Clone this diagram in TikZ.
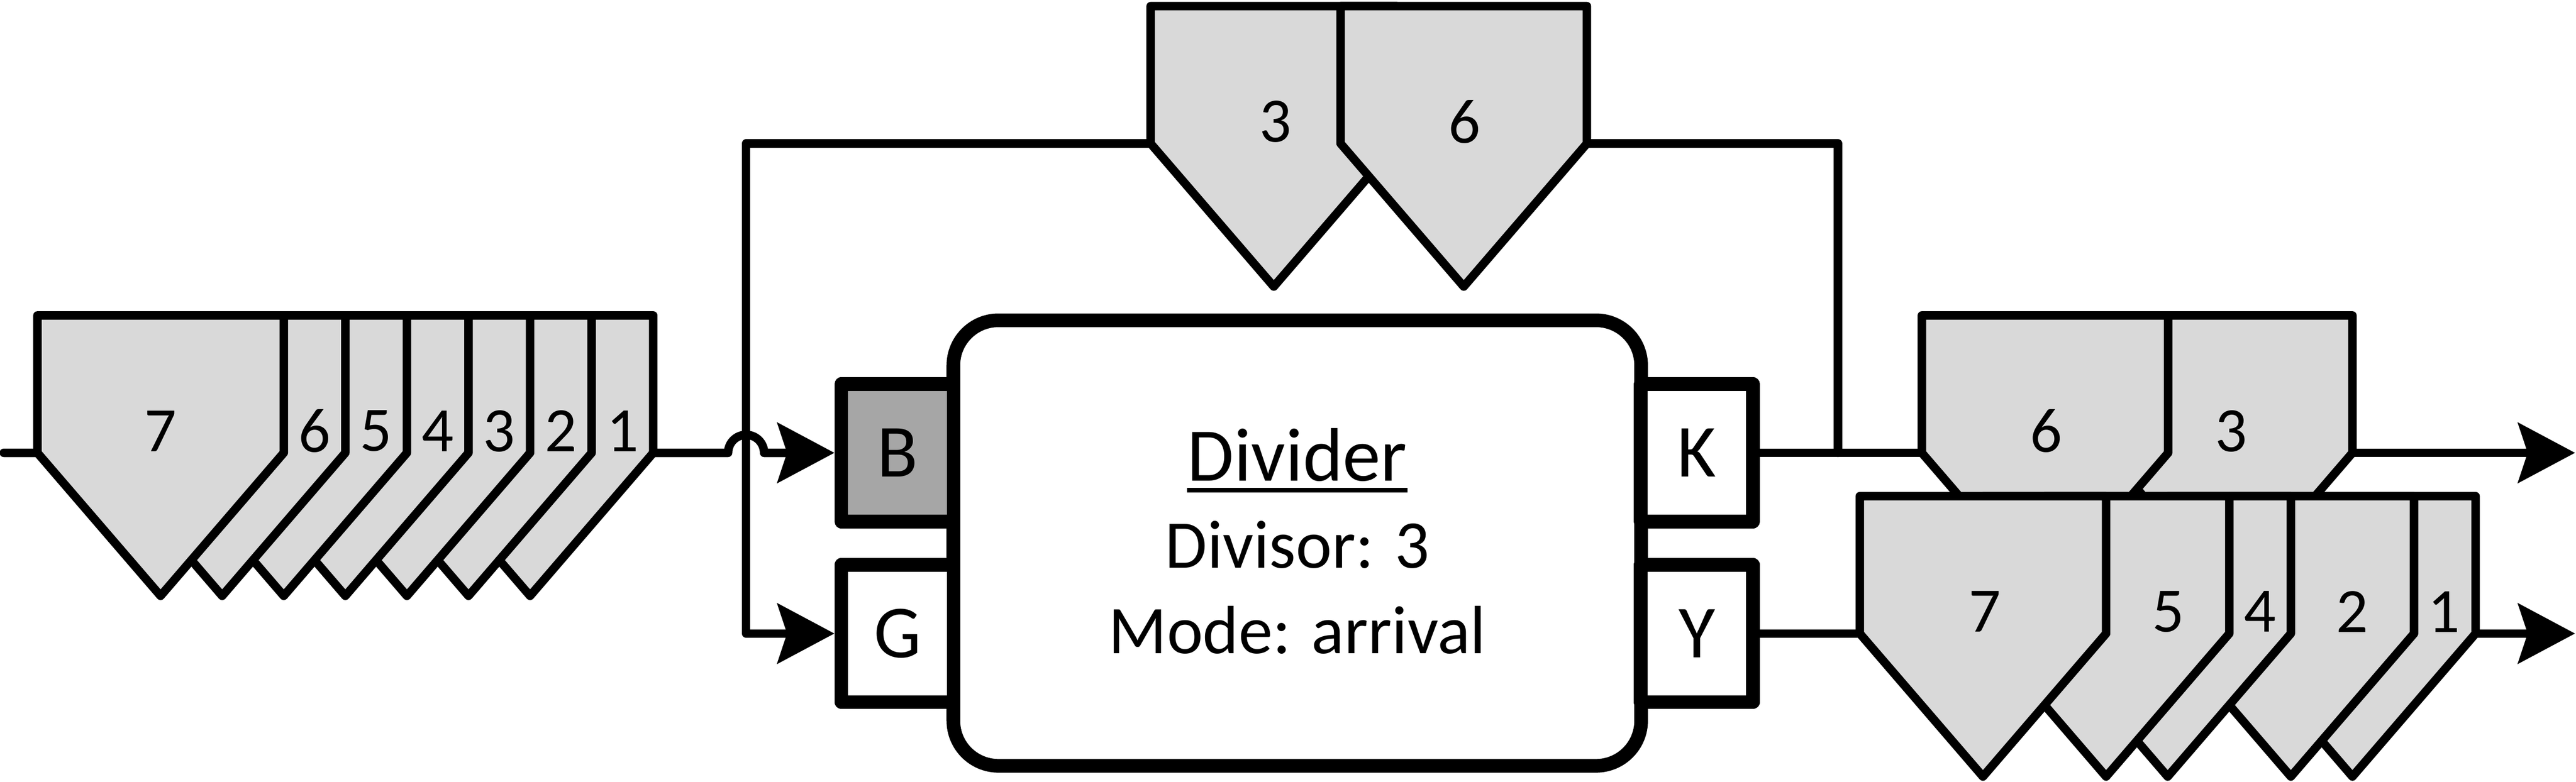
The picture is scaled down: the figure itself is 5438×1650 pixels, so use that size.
\documentclass[tikz,border=0pt]{standalone}
\usepackage{fontspec}
\setmainfont{Carlito}
\usetikzlibrary{arrows.meta}

\definecolor{tokengray}{HTML}{D9D9D9}
\definecolor{portgray}{HTML}{A6A6A6}

% token: name, right edge, top, label x, label
\newcommand{\pkt}[5]{%
  \draw[token] (#2-520,#3) -- (#2,#3) -- (#2,#3+290) -- (#2-260,#3+592) -- (#2-520,#3+290) -- cycle;
  \node (#1) [tokenlabel] at (#4,#3+244) {#5};
}

\begin{document}
\begin{tikzpicture}[x=0.01cm, y=-0.01cm, line join=round,
  >={Stealth[length=1.2cm, width=1.26cm, inset=0.2cm]},
  port/.style={draw, line width=8.2pt, minimum width=2.37cm, minimum height=2.9cm, inner sep=0pt, font=\fontsize{45}{54}\selectfont},
  divbox/.style={draw, fill=white, line width=8.2pt, rounded corners=0.95cm, minimum width=14.51cm, minimum height=9.4cm},
  divtext/.style={inner sep=0pt, anchor=base, font=\fontsize{41}{49}\selectfont},
  wire/.style={line width=5.1pt, line cap=round},
  token/.style={draw, line width=5.1pt, fill=tokengray},
  tokenlabel/.style={inner sep=0pt, font=\fontsize{38}{46}\selectfont}]
\useasboundingbox (0,0) rectangle (5438,1650);
% Specification of nodes (position, etc.)

\node (divider)   [divbox]                    at (2738.5,1146.5) {};
\node (B)         [port, fill=portgray]       at (1894.5,956)    {B};
\node (G)         [port, fill=white]          at (1894.5,1337.5) {G};
\node (K)         [port, fill=white]          at (3582,956)      {K};
\node (Y)         [port, fill=white]          at (3582,1337.5)   {Y};

\node (title)     [divtext, font=\fontsize{45.5}{54}\selectfont] at (2738.5,1015) {Divider};
\node (divisor)   [divtext]                   at (2738.5,1199)   {Divisor: 3};
\node (mode)      [divtext]                   at (2738.5,1380)   {Mode: arrival};
\draw[line width=2.8pt] ([yshift=-0.2cm]title.base west) -- ([yshift=-0.2cm]title.base east);

\coordinate (start)   at (8,956);
\coordinate (kjoin)   at (3880,956);
\coordinate (kend)    at (5436,956);
\coordinate (yend)    at (5436,1337.5);

\draw[wire, ->]       (start) -- (1537,956) arc[start angle=180, end angle=360, radius=38] -- (B);
\draw[wire, ->]       (kjoin) |- (1575,303) |- (G);
\draw[wire, ->]       (K) -- (kend);
\draw[wire, ->]       (Y) -- (yend);

% incoming tokens
\pkt{in1}{1379}{666}{1314}{1}
\pkt{in2}{1249}{666}{1184}{2}
\pkt{in3}{1119}{666}{1054}{3}
\pkt{in4}{989}{666}{924}{4}
\pkt{in5}{859}{666}{794}{5}
\pkt{in6}{729}{666}{664}{6}
\pkt{in7}{599}{666}{339}{7}

% fed back tokens
\pkt{fb3}{2949}{13}{2692}{3}
\pkt{fb6}{3350}{13}{3092}{6}

% tokens out of K
\pkt{k3}{4966}{666}{4710}{3}
\pkt{k6}{4577}{666}{4320}{6}

% tokens out of Y
\pkt{y1}{5226}{1047.5}{5159}{1}
\pkt{y2}{5096}{1047.5}{4966}{2}
\pkt{y4}{4836}{1047.5}{4771}{4}
\pkt{y5}{4706}{1047.5}{4577}{5}
\pkt{y7}{4446}{1047.5}{4190}{7}

\end{tikzpicture}
\end{document}
